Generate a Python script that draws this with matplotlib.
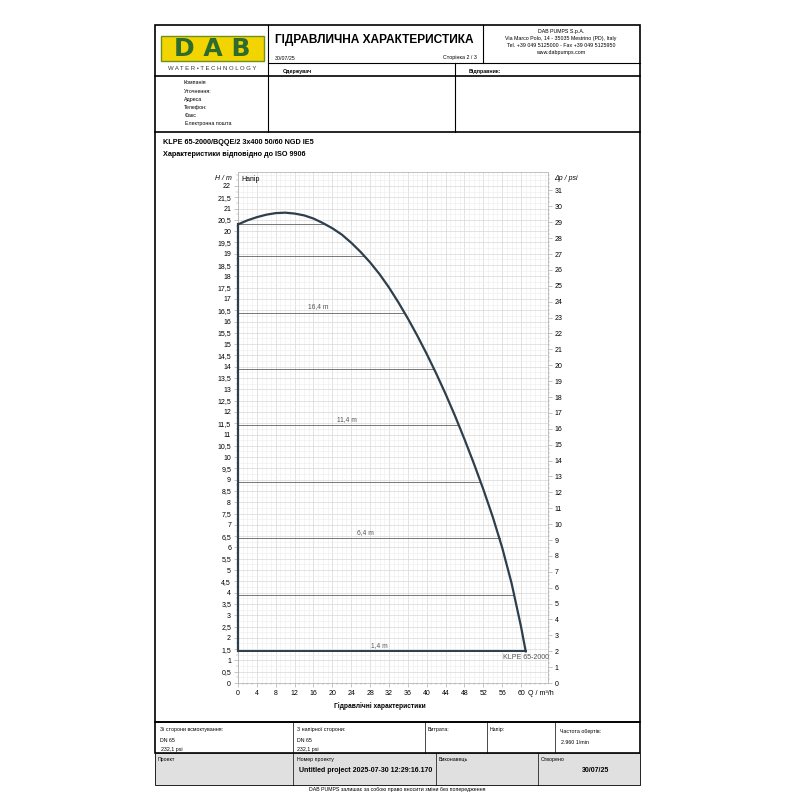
import matplotlib.pyplot as plt
from matplotlib.patches import Rectangle
from matplotlib.lines import Line2D
from matplotlib.ticker import MultipleLocator

plt.rcParams['font.family'] = ['Liberation Sans', 'DejaVu Sans']

# pump curve (Q m3/h, H m)
curve_q = [0, 2, 4, 6, 8, 10, 12, 14, 16, 18, 20, 22, 24, 26, 28, 30, 32, 34, 36, 38, 40, 42, 44, 46, 48, 50, 52, 54, 56, 58, 60, 61]
curve_h = [20.3, 20.48, 20.62, 20.73, 20.8, 20.82, 20.78, 20.7, 20.56, 20.36, 20.13, 19.85, 19.49, 19.08, 18.62, 18.1, 17.51, 16.85, 16.14, 15.38, 14.57, 13.71, 12.8, 11.83, 10.8, 9.72, 8.58, 7.36, 6.0, 4.42, 2.5, 1.4]
# iso-head lines
iso_h = [20.3, 18.9, 16.4, 13.9, 11.4, 8.9, 6.4, 3.9, 1.4]
iso_q = [18.5, 26.5, 35.2, 41.6, 46.7, 51.4, 55.5, 58.6, 61.0]
iso_labels = {16.4: ('16,4 m', 17), 11.4: ('11,4 m', 23), 6.4: ('6,4 m', 27), 1.4: ('1,4 m', 30)}

W = H = 800
fig = plt.figure(figsize=(8, 8), dpi=100)


def fx(x):
    return x / W


def fy(y):
    return 1 - y / H


def txt(x, y, s, size=5, **kw):
    fig.text(fx(x), fy(y), s, fontsize=size, va='center', **kw)


def hline(y, x0, x1, lw=0.8, color='black'):
    fig.add_artist(Line2D([fx(x0), fx(x1)], [fy(y), fy(y)], lw=lw, color=color))


def vline(x, y0, y1, lw=0.8, color='black'):
    fig.add_artist(Line2D([fx(x), fx(x)], [fy(y0), fy(y1)], lw=lw, color=color))


def rect(x0, y0, x1, y1, fc='none', ec='black', lw=0.8):
    fig.add_artist(Rectangle((fx(x0), fy(y1)), fx(x1 - x0), (y1 - y0) / H,
                             facecolor=fc, edgecolor=ec, lw=lw))


# page frame
rect(155, 25, 640, 722, lw=1.2)
hline(63, 268, 640)
hline(76, 155, 640, lw=1.2)
hline(132, 155, 640, lw=1.2)
vline(268, 25, 132)
vline(483, 25, 63)
vline(455, 63, 132)

# logo
rect(161, 36, 264, 61, fc='#f2d500', ec='#6d8f1e', lw=1)
txt(212.5, 49, 'D A B', 18, ha='center', color='#2e6b2e', fontweight='bold', family='DejaVu Sans')
txt(212, 69, 'W A T E R • T E C H N O L O G Y', 4.3, ha='center', color='#333333')

txt(275, 40, 'ГІДРАВЛИЧНА ХАРАКТЕРИСТИКА', 8.6, fontweight='bold')
txt(275, 58, '30/07/25', 3.8)
txt(477, 58, 'Сторінка 2 / 3', 3.8, ha='right')
for i, s in enumerate(['DAB PUMPS S.p.A.', 'Via Marco Polo, 14 - 35035 Mestrino (PD), Italy',
                       'Tel. +39 049 5125000 - Fax +39 049 5125950', 'www.dabpumps.com']):
    txt(561, 31 + i * 7.3, s, 3.8, ha='center')
txt(283, 71, 'Одержувач', 3.8, fontweight='bold')
txt(469, 71, 'Відправник:', 3.8, fontweight='bold')
for i, s in enumerate(['Компанія', 'Уточнення:', 'Адреса', 'Телефон:', 'Факс', 'Електронна пошта']):
    txt(184 + (1 if i > 3 else 0), 83 + i * 8.2, s, 3.8)

txt(163, 142, 'KLPE 65-2000/BQQE/2 3x400 50/60 NGD IE5', 5.2, fontweight='bold')
txt(163, 154, 'Характеристики відповідно до ISO 9906', 5.2, fontweight='bold')

# chart
ax = fig.add_axes([fx(238), fy(683), fx(548 - 238), (683 - 172) / H])
xmax = (548 - 238) / ((521 - 238) / 60)
ymax = (683 - 172) / ((683 - 186) / 22)
ax.set_xlim(0, xmax)
ax.set_ylim(0, ymax)
ax.xaxis.set_minor_locator(MultipleLocator(1))
ax.yaxis.set_minor_locator(MultipleLocator(0.25))
ax.set_xticks([t for t in range(0, 64, 4)])
ax.set_yticks([t * 0.5 for t in range(0, 45)])
ax.set_yticklabels([('%g' % (t * 0.5)).replace('.', ',') for t in range(0, 45)])
ax.grid(which='major', color='#d8d8d8', lw=0.5)
ax.grid(which='minor', color='#ececec', lw=0.4)
ax.tick_params(labelsize=5, length=3, width=0.4, color='#999999', pad=2)
ax.tick_params(which='minor', length=1.5, width=0.3, color='#999999')
for sp in ax.spines.values():
    sp.set_color('#aaaaaa')
    sp.set_linewidth(0.5)

for h, q in zip(iso_h, iso_q):
    ax.plot([0, q], [h, h], color='#777777', lw=0.7, zorder=3)
    if h in iso_labels:
        s, xq = iso_labels[h]
        ax.text(xq, h + 0.12, s, fontsize=4.8, color='#555555', ha='center', va='bottom')
ax.plot([0, 61], [1.4, 1.4], color='#2d3e4c', lw=1.4, zorder=4)
ax.plot([0, 0], [1.4, 20.3], color='#2d3e4c', lw=1.6, zorder=4, clip_on=False)
ax.plot(curve_q, curve_h, color='#2d3e4c', lw=1.6, zorder=4)
ax.text(61, 1.3, 'KLPE 65-2000', fontsize=5, color='#555555', ha='center', va='top')
ax.text(0.8, ymax - 0.15, 'Напір', fontsize=5, va='top')
ax.text(-1.2, 22.35, 'H / m', fontsize=5, ha='right', va='center', style='italic')
ax.text(xmax - 4.2, -0.45, 'Q / m³/h', fontsize=5, va='center')
ax.text(30, -1.0, 'Гідравлічні характеристики', fontsize=4.8, ha='center', va='center', fontweight='bold')

ax2 = ax.twinx()
ax2.set_ylim(0, ymax * 1.4219)
ax2.yaxis.set_minor_locator(MultipleLocator(0.25))
ax2.tick_params(labelsize=5, length=3, width=0.4, color='#999999', pad=2)
ax2.tick_params(which='minor', length=1.5, width=0.3, color='#999999')
ax2.set_yticks(range(0, 32))
for sp in ax2.spines.values():
    sp.set_visible(False)
ax.text(xmax + 1.2, 22.35, 'Δp / psi', fontsize=5, va='center', style='italic')

# bottom tables
rect(155, 722, 640, 753, lw=1.2)
for x in (293, 425, 487, 555):
    vline(x, 722, 753, lw=0.5)
txt(160, 730, 'Зі сторони всмоктування:', 3.8)
txt(160, 740, 'DN 65', 3.8)
txt(161, 749, '232,1 psi', 3.8)
txt(297, 730, 'З напірної сторони:', 3.8)
txt(297, 740, 'DN 65', 3.8)
txt(297, 749, '232,1 psi', 3.8)
txt(428, 730, 'Витрата:', 3.8)
txt(490, 730, 'Напір:', 3.8)
txt(560, 732, 'Частота обертів:', 3.8)
txt(561, 743, '2.960 1/min', 3.8)

rect(155, 753, 640, 785, fc='#e0e0e0', lw=0.6)
for x in (293, 436, 538):
    vline(x, 753, 785, lw=0.5)
txt(158, 759, 'Проект', 3.8)
txt(297, 759, 'Номер проекту', 3.8)
txt(299, 770, 'Untitled project 2025-07-30 12:29:16.170', 5, fontweight='bold')
txt(439, 759, 'Виконавець', 3.8)
txt(541, 759, 'Створено', 3.8)
txt(596, 770, '30/07/25', 5, fontweight='bold', ha='center')
txt(397, 790, 'DAB PUMPS залишає за собою право вносити зміни без попередження', 3.8, ha='center')

fig.savefig('out.png', dpi=100, facecolor='white')
